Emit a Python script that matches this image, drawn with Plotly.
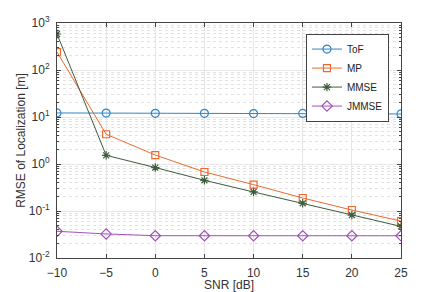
import plotly.graph_objects as go

snr = [-10, -5, 0, 5, 10, 15, 20, 25]
tof = [12.2, 12.1, 12.0, 12.0, 11.8, 11.9, 11.9, 11.6]
mp = [241, 4.3, 1.55, 0.676, 0.364, 0.189, 0.105, 0.061]
mmse = [583, 1.53, 0.84, 0.45, 0.254, 0.146, 0.082, 0.047]
jmmse = [0.037, 0.0325, 0.0298, 0.0297, 0.0297, 0.0297, 0.0297, 0.0297]

x_ticks = [-10, -5, 0, 5, 10, 15, 20, 25]
y_tickvals = [0.01, 0.1, 1, 10, 100, 1000]
y_ticktext = ["10<sup>-2</sup>", "10<sup>-1</sup>", "10<sup>0</sup>", "10<sup>1</sup>", "10<sup>2</sup>", "10<sup>3</sup>"]

series = [
    ("ToF", tof, "#2f86c8", "circle-open", 8),
    ("MP", mp, "#ec6a2e", "square-open", 7),
    ("MMSE", mmse, "#3d5c3d", "asterisk-open", 7),
    ("JMMSE", jmmse, "#a053b8", "diamond-open", 8),
]

FONT = "Liberation Sans, Arial, sans-serif"

fig = go.Figure()
for name, y, c, sym, sz in series:
    fig.add_trace(go.Scatter(
        x=snr, y=y, name=name, mode="lines+markers",
        line=dict(color=c, width=1),
        marker=dict(symbol=sym, size=sz, color=c, line=dict(color=c, width=1.2)),
    ))

axis_common = dict(
    showline=True, linecolor="#444", linewidth=1, mirror="allticks",
    ticks="inside", ticklen=4, tickcolor="#444",
    tickfont=dict(family=FONT, size=12, color="#333"),
    zeroline=False, gridcolor="#e6e6e6", gridwidth=1,
    automargin=False, ticklabelstandoff=4,
)

fig.update_xaxes(
    range=[-10, 25], tickvals=x_ticks, showgrid=True,
    title=dict(text="SNR [dB]", font=dict(family=FONT, size=12, color="#333"), standoff=2),
    **axis_common,
)
fig.update_yaxes(
    type="log", range=[-2, 3], tickvals=y_tickvals, ticktext=y_ticktext, showgrid=True,
    title=dict(text="RMSE of Localization [m]", font=dict(family=FONT, size=12, color="#333"), standoff=0),
    minor=dict(dtick="D1", showgrid=True, griddash="dot", gridcolor="#e2e2e2", gridwidth=1,
               ticks="inside", ticklen=2, tickcolor="#444"),
    **axis_common,
)

fig.update_layout(
    width=435, height=284,
    margin=dict(l=49, r=42, t=15, b=34),
    paper_bgcolor="white", plot_bgcolor="white",
    font=dict(family=FONT, size=11, color="#333"),
    legend=dict(
        x=0.965, y=0.955, xanchor="right", yanchor="top",
        bgcolor="white", bordercolor="#444", borderwidth=1,
        font=dict(family=FONT, size=10, color="#222"), tracegroupgap=0,
        itemwidth=30,
    ),
    showlegend=True,
)

fig.write_html("out.html")
